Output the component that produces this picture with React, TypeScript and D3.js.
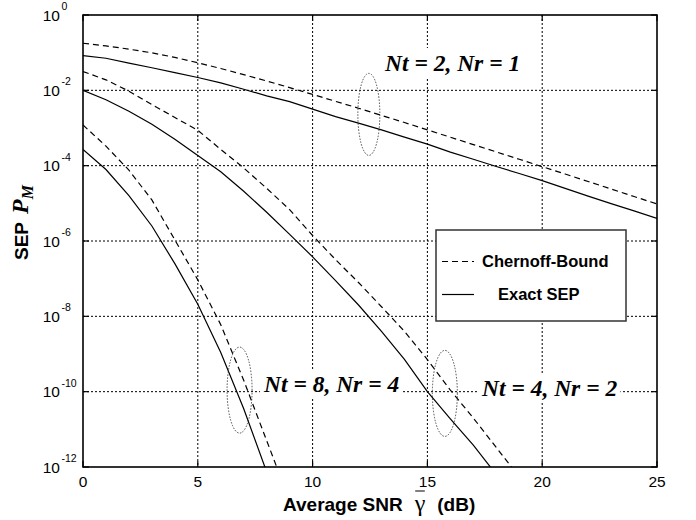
import { useEffect, useRef } from 'react';
import * as d3 from 'd3';

// Average SNR (dB)
const snrDb = [0, 1, 2, 3, 4, 5, 6, 7, 8, 9, 10, 11, 12, 13, 14, 15, 16, 17, 18, 19, 20, 21, 22, 23, 24, 25];

// Nt = 2, Nr = 1
const chernoffNt2 = [
	1.78e-1, 1.51e-1, 1.24e-1, 9.9e-2, 7.5e-2, 5.4e-2, 3.8e-2, 2.61e-2, 1.77e-2, 1.18e-2, 7.8e-3, 5.1e-3, 3.35e-3,
	2.16e-3, 1.4e-3, 8.9e-4, 5.7e-4, 3.63e-4, 2.32e-4, 1.48e-4, 9.4e-5, 6.0e-5, 3.8e-5, 2.4e-5, 1.52e-5, 9.6e-6,
];
const exactNt2 = [
	8.3e-2, 7.1e-2, 5.25e-2, 3.98e-2, 2.95e-2, 2.19e-2, 1.58e-2, 1.07e-2, 7.1e-3, 5.0e-3, 3.16e-3, 2.0e-3, 1.35e-3,
	8.9e-4, 5.75e-4, 3.72e-4, 2.29e-4, 1.48e-4, 9.5e-5, 6.2e-5, 4.0e-5, 2.5e-5, 1.55e-5, 9.8e-6, 6.3e-6, 4.0e-6,
];

// Nt = 4, Nr = 2
const chernoffNt4 = [
	3.16e-2, 1.9e-2, 9.5e-3, 4.2e-3, 1.9e-3, 8.7e-4, 2.7e-4, 8.7e-5, 2.5e-5, 6.8e-6, 1.4e-6, 3.2e-7, 7.9e-8, 1.8e-8,
	4.0e-9, 7.1e-10, 1.1e-10, 2.0e-11, 3.3e-12, 5.4e-13,
];
const exactNt4 = [
	1.0e-2, 5.6e-3, 2.8e-3, 1.26e-3, 5.0e-4, 1.86e-4, 6.9e-5, 2.1e-5, 5.8e-6, 1.5e-6, 3.8e-7, 8.9e-8, 2.0e-8, 4.0e-9,
	7.2e-10, 1.0e-10, 1.9e-11, 3.8e-12, 6.3e-13,
];

// Nt = 8, Nr = 4
const chernoffNt8 = [1.2e-3, 3.3e-4, 7.6e-5, 1.23e-5, 1.07e-6, 9.3e-8, 6.0e-9, 2.0e-10, 5.0e-12, 1.26e-13];
const exactNt8 = [2.7e-4, 7.9e-5, 1.6e-5, 2.5e-6, 2.5e-7, 2.1e-8, 1.1e-9, 3.5e-11, 7.4e-13];

const xTicks = [0, 5, 10, 15, 20, 25];
const yTickExponents = [0, -2, -4, -6, -8, -10, -12];
const legendLabels = ['Chernoff-Bound', 'Exact SEP'];
const groupLabels = ['Nt = 2, Nr = 1', 'Nt = 8, Nr = 4', 'Nt = 4, Nr = 2'];

const W = 696;
const H = 520;

export default function App() {
	const svgRef = useRef<SVGSVGElement>(null);

	useEffect(() => {
		if (!svgRef.current) return;
		const svg = d3.select(svgRef.current);
		svg.selectAll('*').remove();

		const left = 83;
		const right = 657;
		const top = 15;
		const bottom = 467;

		const x = d3.scaleLinear().domain([0, 25]).range([left, right]);
		const y = d3.scaleLog().domain([1e-12, 1]).range([bottom, top]);

		const sans = 'Liberation Sans, Arial, Helvetica, sans-serif';
		const serif = 'Liberation Serif, Times New Roman, serif';

		svg.append('rect').attr('width', W).attr('height', H).attr('fill', '#fff');

		svg
			.append('defs')
			.append('clipPath')
			.attr('id', 'plot-clip')
			.append('rect')
			.attr('x', left)
			.attr('y', top)
			.attr('width', right - left)
			.attr('height', bottom - top);

		// dotted grid
		const grid = svg.append('g').attr('stroke', '#000').attr('stroke-width', 1).attr('stroke-dasharray', '2,2');
		xTicks
			.filter((t) => t > 0 && t < 25)
			.forEach((t) => {
				grid.append('line').attr('x1', x(t)).attr('x2', x(t)).attr('y1', top).attr('y2', bottom);
			});
		yTickExponents
			.filter((e) => e < 0 && e > -12)
			.forEach((e) => {
				grid.append('line').attr('x1', left).attr('x2', right).attr('y1', y(10 ** e)).attr('y2', y(10 ** e));
			});

		// curves
		const series = [
			{ values: chernoffNt2, dashed: true },
			{ values: exactNt2, dashed: false },
			{ values: chernoffNt4, dashed: true },
			{ values: exactNt4, dashed: false },
			{ values: chernoffNt8, dashed: true },
			{ values: exactNt8, dashed: false },
		];
		const line = d3
			.line<[number, number]>()
			.x((d) => x(d[0]))
			.y((d) => y(d[1]));
		const curves = svg.append('g').attr('clip-path', 'url(#plot-clip)');
		series.forEach((s) => {
			const pts = s.values.map((v, i) => [snrDb[i], v] as [number, number]);
			curves
				.append('path')
				.datum(pts)
				.attr('fill', 'none')
				.attr('stroke', '#000')
				.attr('stroke-width', 1.2)
				.attr('stroke-dasharray', s.dashed ? '6,4' : null)
				.attr('d', line);
		});

		// dotted ellipses grouping the pairs
		const ellipses = [
			{ snr: 12.45, sep: 2.3e-3, rx: 11, ry: 41 },
			{ snr: 6.82, sep: 1.1e-10, rx: 12.5, ry: 43 },
			{ snr: 15.76, sep: 9e-11, rx: 12.5, ry: 43 },
		];
		ellipses.forEach((e) => {
			svg
				.append('ellipse')
				.attr('cx', x(e.snr))
				.attr('cy', y(e.sep))
				.attr('rx', e.rx)
				.attr('ry', e.ry)
				.attr('fill', 'none')
				.attr('stroke', '#222')
				.attr('stroke-width', 0.8)
				.attr('stroke-dasharray', '1.5,1.5');
		});

		// group annotations with white background
		const labelPos = [
			{ x: 385, y: 71 },
			{ x: 264, y: 392 },
			{ x: 482, y: 396 },
		];
		groupLabels.forEach((lbl, i) => {
			const g = svg.append('g');
			const bg = g.append('rect').attr('fill', '#fff');
			const t = g
				.append('text')
				.attr('x', labelPos[i].x)
				.attr('y', labelPos[i].y)
				.attr('font-family', serif)
				.attr('font-size', 23.5)
				.attr('font-weight', 'bold')
				.attr('font-style', 'italic')
				.attr('fill', '#000')
				.text(lbl);
			const bb = (t.node() as SVGTextElement).getBBox();
			bg.attr('x', bb.x - 3)
				.attr('y', bb.y - 2)
				.attr('width', bb.width + 6)
				.attr('height', bb.height + 4);
		});

		// legend
		const lg = svg.append('g');
		lg.append('rect')
			.attr('x', 436)
			.attr('y', 230)
			.attr('width', 190)
			.attr('height', 91)
			.attr('fill', '#fff')
			.attr('stroke', '#333')
			.attr('stroke-width', 1.5);
		const legendRows = [
			{ y: 261.5, dashed: true, tx: 482 },
			{ y: 294.5, dashed: false, tx: 498 },
		];
		legendLabels.forEach((lbl, i) => {
			const r = legendRows[i];
			lg.append('line')
				.attr('x1', 442)
				.attr('x2', 474)
				.attr('y1', r.y)
				.attr('y2', r.y)
				.attr('stroke', '#000')
				.attr('stroke-width', 1.2)
				.attr('stroke-dasharray', r.dashed ? '6,4' : null);
			lg.append('text')
				.attr('x', r.tx)
				.attr('y', r.y + 5.5)
				.attr('font-family', sans)
				.attr('font-size', 16.5)
				.attr('font-weight', 'bold')
				.attr('fill', '#000')
				.text(lbl);
		});

		// frame and inward ticks
		svg
			.append('rect')
			.attr('x', left)
			.attr('y', top)
			.attr('width', right - left)
			.attr('height', bottom - top)
			.attr('fill', 'none')
			.attr('stroke', '#000')
			.attr('stroke-width', 1.6);
		const ticks = svg.append('g').attr('stroke', '#000').attr('stroke-width', 1.2);
		xTicks.forEach((t) => {
			ticks.append('line').attr('x1', x(t)).attr('x2', x(t)).attr('y1', bottom).attr('y2', bottom - 6);
			ticks.append('line').attr('x1', x(t)).attr('x2', x(t)).attr('y1', top).attr('y2', top + 6);
		});
		yTickExponents.forEach((e) => {
			const yy = y(10 ** e);
			ticks.append('line').attr('x1', left).attr('x2', left + 6).attr('y1', yy).attr('y2', yy);
			ticks.append('line').attr('x1', right).attr('x2', right - 6).attr('y1', yy).attr('y2', yy);
		});

		// tick labels
		xTicks.forEach((t) => {
			svg
				.append('text')
				.attr('x', x(t))
				.attr('y', 487)
				.attr('text-anchor', 'middle')
				.attr('font-family', sans)
				.attr('font-size', 15.5)
				.attr('fill', '#000')
				.text(String(t));
		});
		yTickExponents.forEach((e) => {
			const yy = y(10 ** e);
			svg
				.append('text')
				.attr('x', 60)
				.attr('y', yy + 5.5)
				.attr('text-anchor', 'end')
				.attr('font-family', sans)
				.attr('font-size', 15.5)
				.attr('fill', '#000')
				.text('10');
			svg
				.append('text')
				.attr('x', 61.5)
				.attr('y', yy - 5)
				.attr('font-family', sans)
				.attr('font-size', 10.5)
				.attr('fill', '#000')
				.text(e === 0 ? '0' : `-${-e}`);
		});

		// x axis label
		const xl = svg
			.append('text')
			.attr('x', 283)
			.attr('y', 511)
			.attr('font-family', sans)
			.attr('font-size', 19)
			.attr('font-weight', 'bold')
			.attr('fill', '#000');
		xl.append('tspan').text('Average SNR');
		xl.append('tspan')
			.attr('dx', 12)
			.attr('font-family', serif)
			.attr('font-weight', 'normal')
			.attr('font-size', 24)
			.text('γ');
		xl.append('tspan').attr('dx', 12).text('(dB)');
		const gx = (xl.node() as SVGTextElement).getExtentOfChar(11);
		svg
			.append('line')
			.attr('x1', gx.x + 0.5)
			.attr('x2', gx.x + gx.width - 0.5)
			.attr('y1', 491)
			.attr('y2', 491)
			.attr('stroke', '#000')
			.attr('stroke-width', 1);

		// y axis label
		const yl = svg
			.append('text')
			.attr('transform', 'translate(28,260) rotate(-90)')
			.attr('font-family', sans)
			.attr('font-size', 19)
			.attr('font-weight', 'bold')
			.attr('fill', '#000');
		yl.append('tspan').text('SEP');
		yl.append('tspan')
			.attr('dx', 8)
			.attr('font-family', serif)
			.attr('font-style', 'italic')
			.attr('font-size', 24)
			.text('P');
		yl.append('tspan')
			.attr('dy', 5)
			.attr('font-family', serif)
			.attr('font-style', 'italic')
			.attr('font-size', 16)
			.text('M');
	}, []);

	return (
		<svg
			ref={svgRef}
			width={W}
			height={H}
			style={{ position: 'absolute', left: 0, top: 0, display: 'block' }}
		></svg>
	);
}
